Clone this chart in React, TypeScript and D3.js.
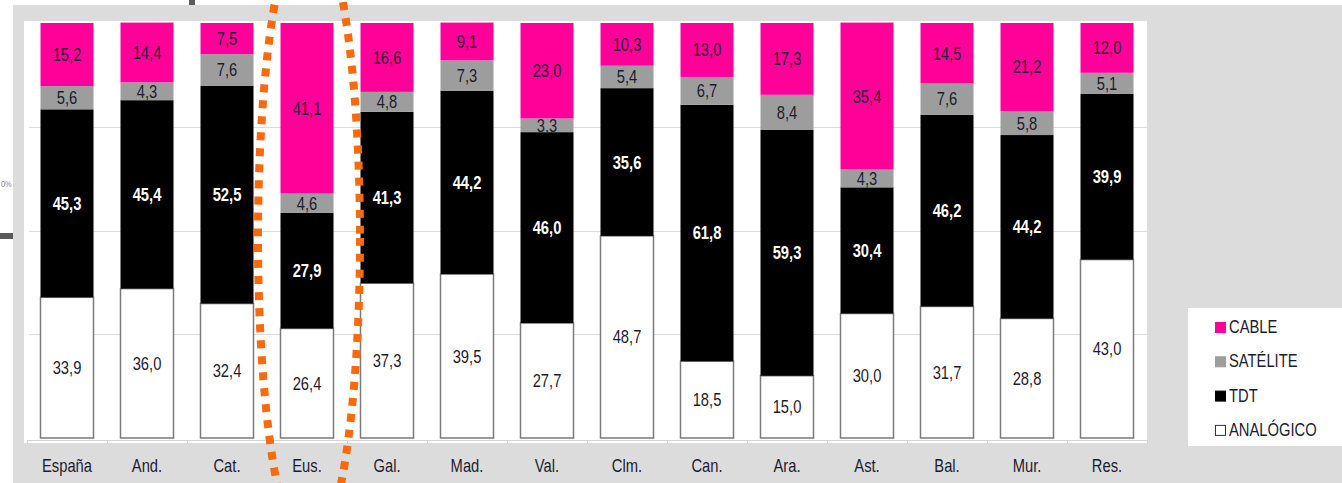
import React, { useRef, useEffect } from 'react';
import * as d3 from 'd3';

// categories (left to right)
const regions = ['España', 'And.', 'Cat.', 'Eus.', 'Gal.', 'Mad.', 'Val.', 'Clm.', 'Can.', 'Ara.', 'Ast.', 'Bal.', 'Mur.', 'Res.'];

// series values, bottom to top of each stack (%)
const analogico = [33.9, 36.0, 32.4, 26.4, 37.3, 39.5, 27.7, 48.7, 18.5, 15.0, 30.0, 31.7, 28.8, 43.0];
const tdt = [45.3, 45.4, 52.5, 27.9, 41.3, 44.2, 46.0, 35.6, 61.8, 59.3, 30.4, 46.2, 44.2, 39.9];
const satelite = [5.6, 4.3, 7.6, 4.6, 4.8, 7.3, 3.3, 5.4, 6.7, 8.4, 4.3, 7.6, 5.8, 5.1];
const cable = [15.2, 14.4, 7.5, 41.1, 16.6, 9.1, 23.0, 10.3, 13.0, 17.3, 35.4, 14.5, 21.2, 12.0];

const seriesNames = ['ANALÓGICO', 'TDT', 'SATÉLITE', 'CABLE'];
const gridTicks = [0, 25, 50, 75, 100];

// no narrow face installed, so squeeze Liberation Sans horizontally
const FONT = "'Liberation Sans', Arial, sans-serif";
const SQUEEZE = 0.82;

export default function App() {
    const ref = useRef<SVGSVGElement>(null);

    useEffect(() => {
        const svg = d3.select(ref.current);
        svg.selectAll('*').remove();

        const width = 1342;
        const height = 483;
        svg.attr('width', width).attr('height', height);

        const colors: Record<string, string> = {
            'ANALÓGICO': '#ffffff',
            'TDT': '#000000',
            'SATÉLITE': '#9d9d9d',
            'CABLE': '#ff0099',
        };
        const labelColors: Record<string, string> = {
            'ANALÓGICO': '#1c1c30',
            'TDT': '#ffffff',
            'SATÉLITE': '#1c1c30',
            'CABLE': '#1c1c30',
        };

        const rows = regions.map((r, i) => ({
            region: r,
            'ANALÓGICO': analogico[i],
            'TDT': tdt[i],
            'SATÉLITE': satelite[i],
            'CABLE': cable[i],
        }));

        // scales
        const x = d3.scaleBand()
            .domain(regions)
            .range([27, 1147])
            .paddingInner(0.3375)
            .paddingOuter(0.3375 / 2);

        const y = d3.scaleLinear()
            .domain([0, 100])
            .range([438, 23]);

        const at = (px: number, py: number) => `translate(${px},${py}) scale(${SQUEEZE},1)`;

        // outer gray panel + white plot area
        svg.append('rect').attr('x', 13).attr('y', 5).attr('width', width - 13).attr('height', height - 5).attr('fill', '#dcdcdc');
        svg.append('rect').attr('x', 24).attr('y', 21).attr('width', 1123).attr('height', 422).attr('fill', '#ffffff');

        // leftover bits of a neighbouring chart at the edge
        svg.append('rect').attr('x', 0).attr('y', 233).attr('width', 13).attr('height', 6).attr('fill', '#5a5a5a');
        svg.append('rect').attr('x', 189).attr('y', 0).attr('width', 6).attr('height', 5).attr('fill', '#5a5a5a');
        svg.append('text').attr('transform', at(1, 187)).attr('font-family', FONT).attr('font-size', 9)
            .attr('fill', '#8a8a8a').text('0%');

        // gridlines
        svg.append('g')
            .selectAll('line')
            .data(gridTicks.slice(1, 4))
            .join('line')
            .attr('x1', 29).attr('x2', 1147)
            .attr('y1', d => Math.round(y(d)) + 0.5)
            .attr('y2', d => Math.round(y(d)) + 0.5)
            .attr('stroke', '#dadada');

        // category axis line with dividers
        const step = x.step();
        svg.append('line').attr('x1', 27).attr('x2', 1147).attr('y1', 440.5).attr('y2', 440.5).attr('stroke', '#d4d4d4');
        svg.append('g')
            .selectAll('line')
            .data(d3.range(regions.length + 1))
            .join('line')
            .attr('x1', i => 27 + i * step + 0.5)
            .attr('x2', i => 27 + i * step + 0.5)
            .attr('y1', 440).attr('y2', 444)
            .attr('stroke', '#d4d4d4');

        // stacked bars
        const stack = d3.stack<any>().keys(seriesNames);
        const stacked = stack(rows);

        const layers = svg.append('g')
            .selectAll('g')
            .data(stacked)
            .join('g')
            .attr('fill', d => colors[d.key]);

        layers.selectAll('rect')
            .data(d => d.map(s => ({ s, key: d.key })))
            .join('rect')
            .attr('x', d => x(d.s.data.region)!)
            .attr('width', x.bandwidth())
            .attr('y', d => y(d.s[1]))
            .attr('height', d => y(d.s[0]) - y(d.s[1]))
            .attr('stroke', d => (d.key === 'ANALÓGICO' ? '#7a7a7a' : 'none'))
            .attr('stroke-width', 1.5);

        // value labels
        layers.selectAll('text')
            .data(d => d.map(s => ({ s, key: d.key })))
            .join('text')
            .attr('transform', d => at(x(d.s.data.region)! + x.bandwidth() / 2, (y(d.s[0]) + y(d.s[1])) / 2))
            .attr('dy', '0.36em')
            .attr('text-anchor', 'middle')
            .attr('font-family', FONT)
            .attr('font-size', 18)
            .attr('font-weight', d => (d.key === 'TDT' ? 'bold' : 'normal'))
            .attr('fill', d => labelColors[d.key])
            .text(d => d3.format('.1f')(d.s[1] - d.s[0]).replace('.', ','));

        // category labels
        svg.append('g')
            .selectAll('text')
            .data(regions)
            .join('text')
            .attr('transform', d => at(x(d)! + x.bandwidth() / 2, 472))
            .attr('text-anchor', 'middle')
            .attr('font-family', FONT)
            .attr('font-size', 18)
            .attr('fill', '#1c1c30')
            .text(d => d);

        // legend
        svg.append('rect').attr('x', 1188).attr('y', 308).attr('width', 154).attr('height', 138).attr('fill', '#ffffff');
        const legend = svg.append('g')
            .selectAll('g')
            .data(seriesNames.slice().reverse())
            .join('g')
            .attr('transform', (d, i) => `translate(1215, ${333 + i * 34.3})`);
        legend.append('rect')
            .attr('x', 0.5).attr('y', -10.5)
            .attr('width', 10).attr('height', 10)
            .attr('fill', d => colors[d])
            .attr('stroke', d => (d === 'ANALÓGICO' ? '#333' : colors[d]));
        legend.append('text')
            .attr('transform', at(14, 0))
            .attr('font-family', FONT)
            .attr('font-size', 18)
            .attr('fill', '#1c1c30')
            .text(d => d);

        // dotted orange highlight around Eus.
        svg.append('ellipse')
            .attr('cx', x('Eus.')! + x.bandwidth() / 2 + 2)
            .attr('cy', 238)
            .attr('rx', 51)
            .attr('ry', 316)
            .attr('fill', 'none')
            .attr('stroke', '#f96a0c')
            .attr('stroke-width', 8)
            .attr('stroke-dasharray', '8 8');
    }, []);

    return <svg ref={ref} style={{ display: 'block', position: 'absolute', left: 0, top: 0 }} />;
}
